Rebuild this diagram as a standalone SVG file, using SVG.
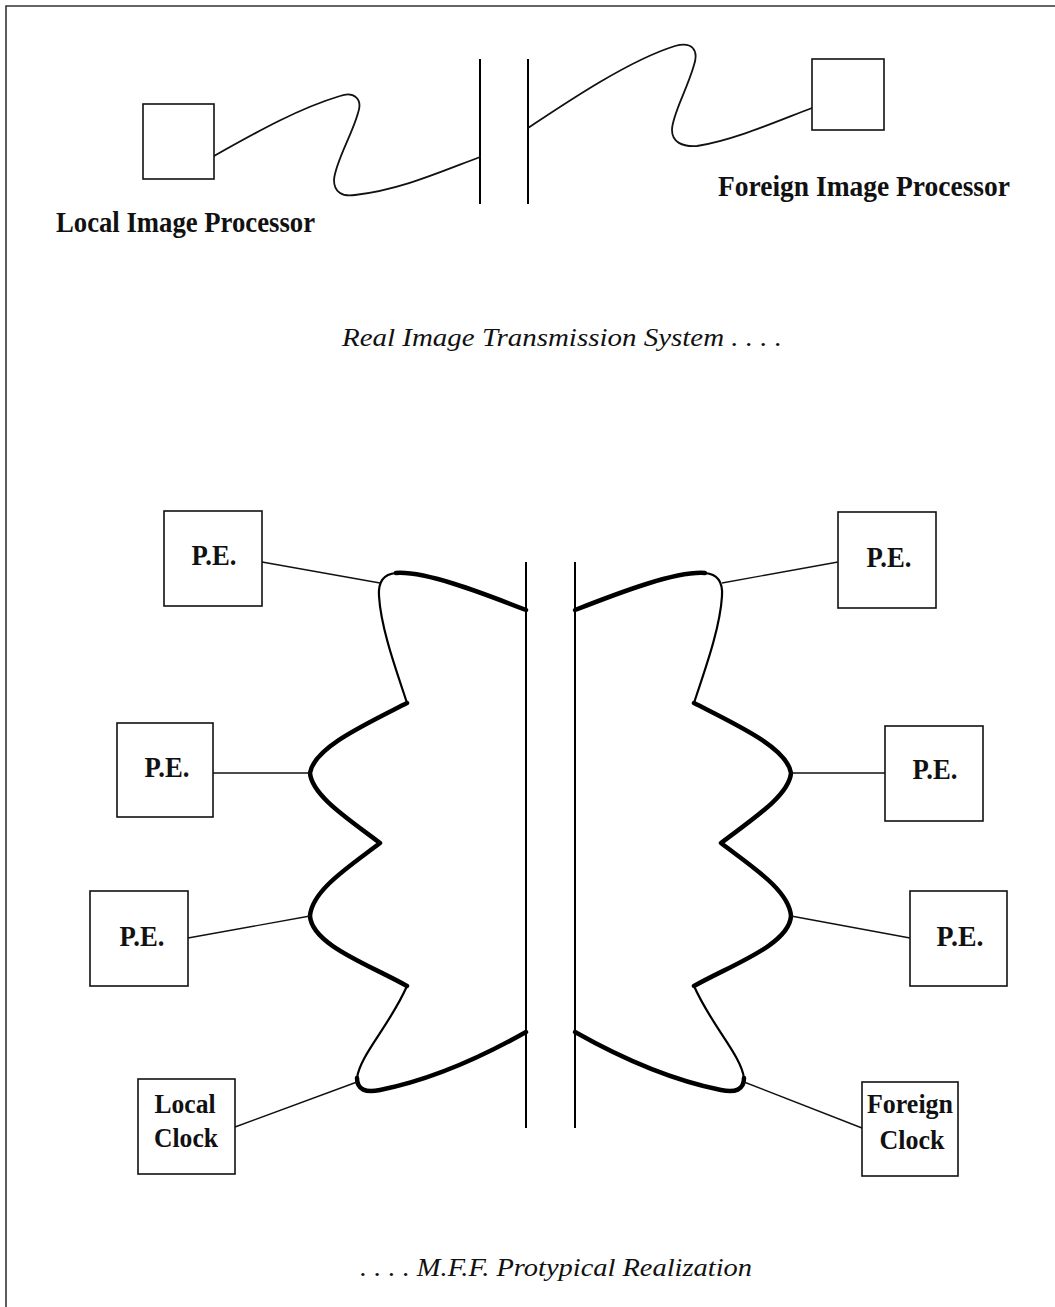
<svg xmlns="http://www.w3.org/2000/svg" width="1055" height="1307" viewBox="0 0 1055 1307">
<style>
.box{fill:#fff;stroke:#111;stroke-width:1.6}
.ln{fill:none;stroke:#111;stroke-width:1.4}
.wire{fill:none;stroke:#111;stroke-width:1.8;stroke-linecap:round}
.thick{fill:none;stroke:#000;stroke-width:4.5;stroke-linecap:round;stroke-linejoin:round}
.thin{fill:none;stroke:#000;stroke-width:2.2;stroke-linecap:round}
.bar{fill:none;stroke:#000;stroke-width:2}
.lbl{font-family:"Liberation Serif","Times New Roman",serif;font-weight:bold;fill:#111}
.cap{font-family:"Liberation Serif","Times New Roman",serif;font-style:italic;fill:#111}
</style>
<rect x="0" y="0" width="1055" height="1307" fill="#fff"/>
<path d="M6 1307 V6 H1055" fill="none" stroke="#333" stroke-width="1.6"/>

<g id="connectors">
  <line class="bar" x1="480" y1="59" x2="480" y2="204"/>
  <line class="bar" x1="528" y1="59" x2="528" y2="204"/>
  <path class="wire" d="M214 156 C260 130,300 108,340 96 C354 91,363 99,358 113 C352 135,335 163,334 180 C334 192,342 197,355 195 C400 190,440 172,480 157"/>
  <path class="wire" d="M528 128 C570 100,630 60,675 46 C692 41,699 50,694 65 C687 90,672 115,672 130 C672 142,682 147,697 146 C735 140,780 120,812 108"/>

  <line class="bar" x1="526" y1="562" x2="526" y2="1128"/>
  <line class="bar" x1="575" y1="562" x2="575" y2="1128"/>

  <g id="left-wave">
    <path class="thick" d="M526 610 C480 592,425 571,396 573"/>
    <path class="thin" d="M396 573 C384 574,378 582,379 596 C381 630,398 675,407 703"/>
    <path class="thick" d="M407 703 C362 726,314 748,310 773 C312 796,350 820,380 843 C350 866,312 890,310 916 C312 945,370 965,407 986"/>
    <path class="thin" d="M407 986 C390 1025,360 1055,357 1078"/>
    <path class="thick" d="M357 1078 C357 1090,366 1093,380 1090 C430 1080,480 1058,526 1032"/>
  </g>
  <g id="right-wave" transform="translate(1101,0) scale(-1,1)">
    <path class="thick" d="M526 610 C480 592,425 571,396 573"/>
    <path class="thin" d="M396 573 C384 574,378 582,379 596 C381 630,398 675,407 703"/>
    <path class="thick" d="M407 703 C362 726,314 748,310 773 C312 796,350 820,380 843 C350 866,312 890,310 916 C312 945,370 965,407 986"/>
    <path class="thin" d="M407 986 C390 1025,360 1055,357 1078"/>
    <path class="thick" d="M357 1078 C357 1090,366 1093,380 1090 C430 1080,480 1058,526 1032"/>
  </g>

  <line class="ln" x1="262" y1="562" x2="380" y2="583"/>
  <line class="ln" x1="213" y1="773" x2="310" y2="773"/>
  <line class="ln" x1="188" y1="938" x2="310" y2="916"/>
  <line class="ln" x1="235" y1="1127" x2="357" y2="1082"/>
  <line class="ln" x1="722" y1="583" x2="838" y2="562"/>
  <line class="ln" x1="791" y1="773" x2="885" y2="773"/>
  <line class="ln" x1="791" y1="916" x2="910" y2="938"/>
  <line class="ln" x1="744" y1="1082" x2="862" y2="1128"/>
</g>

<g id="local-image-processor">
  <rect class="box" x="143" y="104" width="71" height="75"/>
  <text class="lbl" x="56" y="232" font-size="30" textLength="259" lengthAdjust="spacingAndGlyphs">Local Image Processor</text>
</g>
<g id="foreign-image-processor">
  <rect class="box" x="812" y="59" width="72" height="71"/>
  <text class="lbl" x="718" y="196" font-size="30" textLength="292" lengthAdjust="spacingAndGlyphs">Foreign Image Processor</text>
</g>

<g id="title-real">
  <text class="cap" x="342" y="346" font-size="26" textLength="440" lengthAdjust="spacingAndGlyphs">Real Image Transmission System . . . .</text>
</g>

<g id="pe-left-1">
  <rect class="box" x="164" y="511" width="98" height="95"/>
  <text class="lbl" x="214" y="565" font-size="30" text-anchor="middle" textLength="45" lengthAdjust="spacingAndGlyphs">P.E.</text>
</g>
<g id="pe-left-2">
  <rect class="box" x="117" y="723" width="96" height="94"/>
  <text class="lbl" x="167" y="777" font-size="30" text-anchor="middle" textLength="45" lengthAdjust="spacingAndGlyphs">P.E.</text>
</g>
<g id="pe-left-3">
  <rect class="box" x="90" y="891" width="98" height="95"/>
  <text class="lbl" x="142" y="946" font-size="30" text-anchor="middle" textLength="45" lengthAdjust="spacingAndGlyphs">P.E.</text>
</g>
<g id="local-clock">
  <rect class="box" x="138" y="1079" width="97" height="95"/>
  <text class="lbl" x="185" y="1113" font-size="27" text-anchor="middle" textLength="61" lengthAdjust="spacingAndGlyphs">Local</text>
  <text class="lbl" x="186" y="1147" font-size="27" text-anchor="middle" textLength="64" lengthAdjust="spacingAndGlyphs">Clock</text>
</g>

<g id="pe-right-1">
  <rect class="box" x="838" y="512" width="98" height="96"/>
  <text class="lbl" x="889" y="567" font-size="30" text-anchor="middle" textLength="45" lengthAdjust="spacingAndGlyphs">P.E.</text>
</g>
<g id="pe-right-2">
  <rect class="box" x="885" y="726" width="98" height="95"/>
  <text class="lbl" x="935" y="779" font-size="30" text-anchor="middle" textLength="45" lengthAdjust="spacingAndGlyphs">P.E.</text>
</g>
<g id="pe-right-3">
  <rect class="box" x="910" y="891" width="97" height="95"/>
  <text class="lbl" x="960" y="946" font-size="30" text-anchor="middle" textLength="47" lengthAdjust="spacingAndGlyphs">P.E.</text>
</g>
<g id="foreign-clock">
  <rect class="box" x="862" y="1082" width="96" height="94"/>
  <text class="lbl" x="910" y="1113" font-size="27" text-anchor="middle" textLength="86" lengthAdjust="spacingAndGlyphs">Foreign</text>
  <text class="lbl" x="912" y="1149" font-size="27" text-anchor="middle" textLength="65" lengthAdjust="spacingAndGlyphs">Clock</text>
</g>

<g id="title-mff">
  <text class="cap" x="360" y="1276" font-size="25" textLength="392" lengthAdjust="spacingAndGlyphs">. . . . M.F.F. Protypical Realization</text>
</g>
</svg>
